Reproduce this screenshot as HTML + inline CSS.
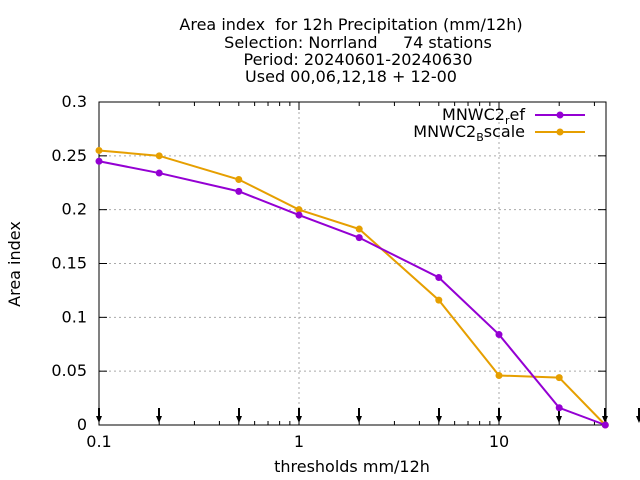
<!DOCTYPE html>
<html><head><meta charset="utf-8"><style>
body{margin:0;background:#fff}
svg{display:block;font-family:"DejaVu Sans","Liberation Sans",sans-serif}
</style></head><body>
<svg id="c" width="640" height="480" xmlns="http://www.w3.org/2000/svg">
<g font-size="16" text-anchor="middle" fill="#000">
<text x="351" y="30" xml:space="preserve">Area index  for 12h Precipitation (mm/12h)</text>
<text x="358" y="48" xml:space="preserve">Selection: Norrland     74 stations</text>
<text x="358" y="65">Period: 20240601-20240630</text>
<text x="351" y="82">Used 00,06,12,18 + 12-00</text>
</g>
<text x="20" y="264" font-size="16" text-anchor="middle" transform="rotate(-90 20 264)">Area index</text>
<text x="352" y="472" font-size="16" text-anchor="middle">thresholds mm/12h</text>
<g id="grid"></g><g id="axes"></g><g id="series"></g>
<g font-size="16">
<text x="525" y="120" text-anchor="end">MNWC2<tspan font-size="11" dy="4">r</tspan><tspan dy="-4">ef</tspan></text>
<line x1="535" y1="115" x2="585" y2="115" stroke="#9400d3" stroke-width="2"/>
<circle cx="560" cy="115" r="3.5" fill="#9400d3"/>
<text x="525" y="137" text-anchor="end">MNWC2<tspan font-size="11" dy="4">B</tspan><tspan dy="-4">scale</tspan></text>
<line x1="535" y1="132" x2="585" y2="132" stroke="#e69f00" stroke-width="2"/>
<circle cx="560" cy="132" r="3.5" fill="#e69f00"/>
</g>
</svg>
<script>
const thresholds=[0.1,0.2,0.5,1,2,5,10,20,34];
const refValues=[0.245,0.234,0.217,0.195,0.174,0.137,0.084,0.016,0.0];
const bscaleValues=[0.255,0.250,0.228,0.200,0.182,0.116,0.046,0.044,0.0];
const arrowPositions=[0.1,0.2,0.5,1,2,5,10,20,34,50];
const yTicks=[0,0.05,0.1,0.15,0.2,0.25,0.3];
const yTickLabels=["0","0.05","0.1","0.15","0.2","0.25","0.3"];
const xTicks=[0.1,1,10];
const xTickLabels=["0.1","1","10"];
const L=99,R=606,T=102,B=425;
const X=v=>L+200*(Math.log10(v)+1);
const Y=v=>B-(v/0.3)*(B-T);
const NS="http://www.w3.org/2000/svg";
function mk(p,tag,a){const e=document.createElementNS(NS,tag);for(const k in a)e.setAttribute(k,a[k]);p.appendChild(e);return e;}
const grid=document.getElementById('grid'),axes=document.getElementById('axes'),ser=document.getElementById('series');
yTicks.forEach((t,i)=>{
  if(t>0&&t<0.3){const g=mk(grid,'line',{x1:L,x2:R,y1:Y(t),y2:Y(t),stroke:'#aaa','stroke-dasharray':'2,3'});
  
  }
  mk(axes,'line',{x1:L,x2:L+8,y1:Y(t),y2:Y(t),stroke:'#000'});
  mk(axes,'line',{x1:R,x2:R-8,y1:Y(t),y2:Y(t),stroke:'#000'});
  const tx=mk(axes,'text',{x:L-12,y:Y(t)+5,'font-size':16,'text-anchor':'end'});tx.textContent=yTickLabels[i];
  
  
});
xTicks.forEach((t,i)=>{
  if(t>0.1){const g=mk(grid,'line',{x1:X(t),x2:X(t),y1:T,y2:B,stroke:'#aaa','stroke-dasharray':'2,3'});
  
  }
  mk(axes,'line',{x1:X(t),x2:X(t),y1:B,y2:B-8,stroke:'#000'});
  mk(axes,'line',{x1:X(t),x2:X(t),y1:T,y2:T+8,stroke:'#000'});
  const tx=mk(axes,'text',{x:X(t),y:B+22,'font-size':16,'text-anchor':'middle'});tx.textContent=xTickLabels[i];
  
  
});
for(let d=0.1;d<=10;d*=10){for(let m=2;m<=9;m++){const v=d*m;if(X(v)>R)break;
  mk(axes,'line',{x1:X(v),x2:X(v),y1:B,y2:B-4,stroke:'#000'});
  mk(axes,'line',{x1:X(v),x2:X(v),y1:T,y2:T+4,stroke:'#000'});}}
const fr=mk(axes,'rect',{x:L,y:T,width:R-L,height:B-T,fill:'none',stroke:'#000'});


arrowPositions.forEach(v=>{const x=Math.round(X(v));
  const a=mk(axes,'g',{});
  
  
  mk(a,'line',{x1:x,x2:x,y1:408,y2:420,stroke:'#000','stroke-width':2});
  mk(a,'path',{d:`M${x-3},416 L${x+3},416 L${x},423 Z`,fill:'#000'});
});
function series(vals,col,name){
  const g=mk(ser,'g',{});
  
  
  mk(g,'polyline',{points:vals.map((v,i)=>X(thresholds[i])+','+Y(v)).join(' '),fill:'none',stroke:col,'stroke-width':2});
  vals.forEach((v,i)=>{const c=mk(g,'circle',{cx:X(thresholds[i]),cy:Y(v),r:3.5,fill:col});
    
    });
}
series(bscaleValues,'#e69f00','series-bscale');
series(refValues,'#9400d3','series-ref');
</script>
</body></html>
